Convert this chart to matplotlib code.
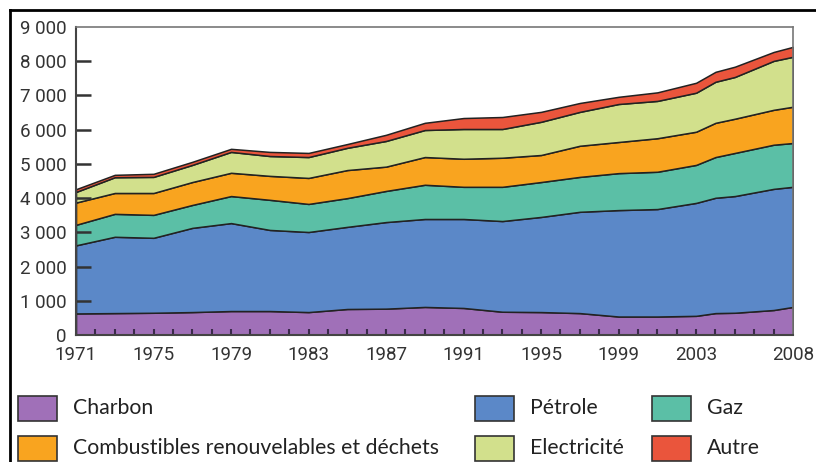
import matplotlib.pyplot as plt
from matplotlib.lines import Line2D
from matplotlib.patches import Rectangle

# Consommation finale mondiale par source (Mtep)
years = [1971, 1973, 1975, 1977, 1979, 1981, 1983, 1985, 1987, 1989, 1991,
         1993, 1995, 1997, 1999, 2001, 2003, 2004, 2005, 2007, 2008]
charbon = [630, 640, 650, 670, 700, 700, 670, 760, 770, 820, 790,
           680, 670, 640, 540, 540, 560, 640, 650, 730, 820]
petrole = [1990, 2230, 2190, 2460, 2570, 2370, 2340, 2400, 2530, 2570, 2600,
           2650, 2780, 2960, 3110, 3140, 3300, 3370, 3410, 3540, 3510]
gaz = [600, 670, 670, 670, 790, 880, 820, 840, 910, 1000, 940,
       1000, 1020, 1020, 1080, 1090, 1110, 1190, 1260, 1290, 1280]
combustibles = [650, 610, 640, 670, 680, 700, 760, 820, 710, 810, 820,
                850, 790, 910, 910, 980, 970, 1000, 1000, 1020, 1060]
electricite = [310, 460, 470, 500, 610, 580, 610, 650, 750, 790, 870,
               840, 970, 990, 1110, 1090, 1140, 1200, 1220, 1430, 1460]
autre = [80, 70, 90, 90, 90, 120, 120, 110, 180, 210, 320,
         350, 290, 260, 210, 250, 290, 290, 300, 260, 290]

labels = ["Charbon", "Pétrole", "Gaz", "Combustibles renouvelables et déchets",
          "Electricité", "Autre"]
colors = ["#a070b8", "#5b88c8", "#5bbfa6", "#f9a41f", "#d2e08c", "#ea553c"]

year_ticks = list(range(1971, 2009))
year_labels = ["1971", "1975", "1979", "1983", "1987", "1991", "1995", "1999", "2003", "2008"]
y_ticks = list(range(0, 9001, 1000))
y_labels = ["0", "1 000", "2 000", "3 000", "4 000", "5 000", "6 000", "7 000", "8 000", "9 000"]

tick_font = ['Roboto', 'DejaVu Sans']
leg_font = ['Lato', 'DejaVu Sans']

fig = plt.figure(figsize=(8.16, 4.62), dpi=100)
ax = fig.add_axes([76 / 816, 1 - 335 / 462, 717 / 816, 308 / 462])

ax.stackplot(years, charbon, petrole, gaz, combustibles, electricite, autre,
             colors=colors, edgecolor="#222222", linewidth=1.1)

ax.set_xlim(1971, 2008)
ax.set_ylim(0, 9000)

ax.set_xticks(year_ticks)
ax.set_xticklabels([str(y) if str(y) in year_labels else "" for y in year_ticks],
                   family=tick_font, fontsize=13.5, color="#333333")
ax.set_yticks(y_ticks)
ax.set_yticklabels(y_labels, family=tick_font, fontsize=13.5, color="#333333")

ax.tick_params(axis="x", direction="in", length=4, width=1.5, color="#3a2a4a", pad=8)
ax.tick_params(axis="y", direction="in", length=11, width=1.8, color="#333333", pad=7)
for t in ax.yaxis.get_major_ticks()[::9]:
    t.tick1line.set_visible(False)
for t in (ax.xaxis.get_major_ticks()[0], ax.xaxis.get_major_ticks()[-1]):
    t.tick1line.set_visible(False)

for side in ["top", "right"]:
    ax.spines[side].set_color("#777777")
    ax.spines[side].set_linewidth(1.2)
for side in ["left", "bottom"]:
    ax.spines[side].set_color("#444444")
    ax.spines[side].set_linewidth(1.5)

# cadre extérieur
fig.add_artist(Line2D([10 / 816, 10 / 816], [0, 1 - 10 / 462], color="black", linewidth=2))
fig.add_artist(Line2D([10 / 816, 1], [1 - 10 / 462, 1 - 10 / 462], color="black", linewidth=2))

# légende
leg_pos = [(18, 408), (475, 408), (652, 408), (18, 448), (475, 448), (652, 448)]
for i, (px, py) in enumerate(leg_pos):
    fig.add_artist(Rectangle((px / 816, 1 - (py + 12.5) / 462), 39 / 816, 25 / 462,
                             facecolor=colors[i], edgecolor="#333333", linewidth=1.2))
    fig.text((px + 55) / 816, 1 - py / 462, labels[i], family=leg_font, fontsize=15.3,
             va="center", ha="left", color="#222222")

fig.savefig("out.png", dpi=100)
